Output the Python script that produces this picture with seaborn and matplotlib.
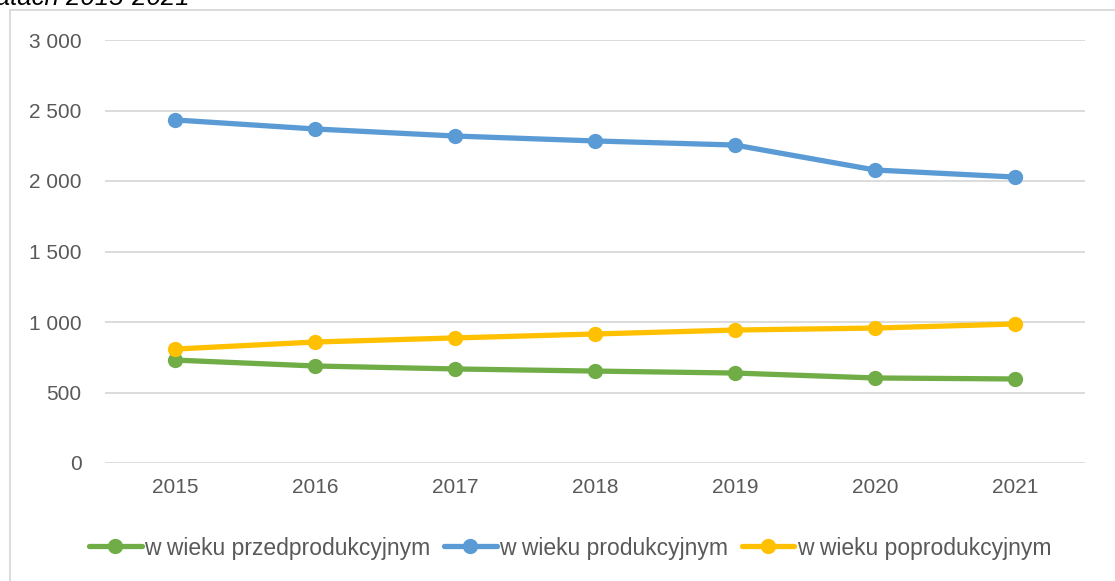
import matplotlib.pyplot as plt
import matplotlib.patches as mpatches
import numpy as np
import pandas as pd
import seaborn as sns

years = ['2015', '2016', '2017', '2018', '2019', '2020', '2021']
przed = [730, 688, 667, 652, 638, 603, 596]
produk = [2433, 2369, 2319, 2284, 2255, 2078, 2028]
popro = [808, 858, 887, 915, 943, 957, 986]
series_names = ['w wieku przedprodukcyjnym', 'w wieku produkcyjnym', 'w wieku poprodukcyjnym']
colors = ['#70AD47', '#5B9BD5', '#FFC000']
yticks = [0, 500, 1000, 1500, 2000, 2500, 3000]

df = pd.DataFrame({'rok': years * 3,
                   'wartosc': przed + produk + popro,
                   'grupa': np.repeat(series_names, len(years))})
df['x'] = df['rok'].map({y: i for i, y in enumerate(years)})

sns.set_style('white')
plt.rcParams['font.family'] = ['Liberation Sans', 'DejaVu Sans']

fig = plt.figure(figsize=(11.15, 5.81), dpi=100)
ax = fig.add_axes([105 / 1115, (581 - 463) / 581, 980 / 1115, 423 / 581])

sns.lineplot(data=df, x='x', y='wartosc', hue='grupa', palette=colors,
             marker='o', markersize=11, markeredgewidth=0, linewidth=3.8,
             ax=ax, legend=False)

ax.set_xlim(-0.5, len(years) - 0.5)
ax.set_ylim(0, 3000)
ax.set_xticks(range(len(years)))
ax.set_xticklabels(years)
ax.set_yticks(yticks)
ax.set_yticklabels([f'{v:,}'.replace(',', ' ') for v in yticks])
ax.tick_params(axis='both', length=0, labelsize=15, labelcolor='#595959')
ax.tick_params(axis='y', pad=17)
ax.tick_params(axis='x', pad=11)
ax.grid(axis='y', color='#D9D9D9', linewidth=1.3)
ax.set_axisbelow(True)
for s in ax.spines.values():
    s.set_visible(False)
ax.set_xlabel('')
ax.set_ylabel('')

# chart area border
fig.patches.append(mpatches.Rectangle((10 / 1115, -0.1), 1.2, (581 - 10) / 581 + 0.1,
                                      transform=fig.transFigure, fill=False,
                                      edgecolor='#D9D9D9', linewidth=1.3))

# cut-off title at the top
fig.text(-10 / 1115, 1 - 5 / 581, 'latach 2015-2021', fontsize=18.5, style='italic',
         ha='left', va='baseline', color='black')

handles = [plt.Line2D([], [], color=c, marker='o', markersize=11, linewidth=3.8,
                      markeredgewidth=0) for c in colors]
fig.legend(handles, series_names, loc='center', bbox_to_anchor=(570 / 1115, 1 - 548 / 581),
           ncol=3, frameon=False, fontsize=16.5, labelcolor='#595959',
           handlelength=2.3, handletextpad=0.1, columnspacing=0.6)

fig.savefig('out.png', dpi=100)
